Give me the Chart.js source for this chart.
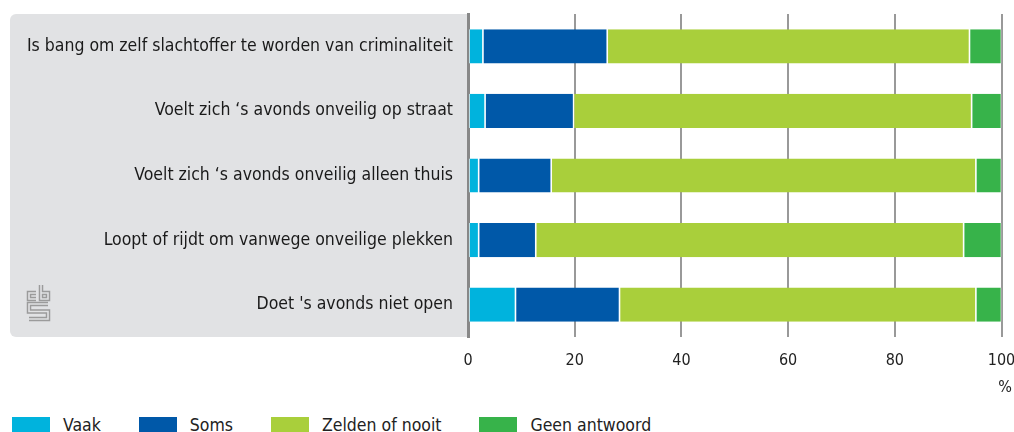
<!DOCTYPE html>
<html>
<head>
<meta charset="utf-8">
<script src="https://cdn.jsdelivr.net/npm/chart.js@4/dist/chart.umd.min.js"></script>
<style>
  body { margin: 0; background: #fff; }
  #wrap { position: relative; width: 1014px; height: 432px; overflow: hidden; }
  #box { position: absolute; left: 0; top: 0; width: 1014px; height: 400px; }
  #legend { position: absolute; left: 12px; top: 415px; display: flex; align-items: center;
            font-family: 'DejaVu Sans Condensed', 'DejaVu Sans', sans-serif; font-size: 17.5px; color: #222; }
  #legend .item { display: flex; align-items: center; margin-right: 38px; }
  #legend .sw { width: 38px; height: 17px; margin-right: 13px; }
</style>
</head>
<body>
<div id="wrap">
  <div id="box"><canvas id="chart"></canvas></div>
  <div id="legend"></div>
</div>
<script>
const categories = [
    'Is bang om zelf slachtoffer te worden van criminaliteit',
    'Voelt zich \u2018s avonds onveilig op straat',
    'Voelt zich \u2018s avonds onveilig alleen thuis',
    'Loopt of rijdt om vanwege onveilige plekken',
    'Doet \'s avonds niet open'
];
const seriesNames = ['Vaak', 'Soms', 'Zelden of nooit', 'Geen antwoord'];
const vaak = [2.8, 3.2, 2.0, 2.0, 8.9];
const soms = [23.3, 16.6, 13.6, 10.7, 19.5];
const zelden = [67.9, 74.6, 79.6, 80.2, 66.8];
const geen = [6.0, 5.6, 4.8, 7.1, 4.8];
const xTicks = [0, 20, 40, 60, 80, 100];
const colors = ['#00b3dd', '#0058a8', '#a9cf3b', '#37b34a'];

const FONT = "'DejaVu Sans Condensed', 'DejaVu Sans', sans-serif";
const PANEL = '#e1e2e4';

// grey label panel + cbs logo
const panelPlugin = {
    id: 'panel',
    beforeDraw(chart) {
        const ctx = chart.ctx;
        const area = chart.chartArea;
        ctx.save();
        ctx.fillStyle = PANEL;
        ctx.beginPath();
        ctx.roundRect(10, area.top, area.left - 10, area.bottom - area.top, [6, 0, 0, 6]);
        ctx.fill();

        ctx.lineJoin = 'miter';
        ctx.lineCap = 'butt';
        const letters = [
            [[36, 293], [29, 293], [29, 299], [36, 299]],
            [[41, 285], [41, 299], [48, 299], [48, 293], [41, 293]],
            [[48, 304], [29, 304], [29, 311.5], [48, 311.5], [48, 319], [29, 319]]
        ];
        [[4.5, '#9b9b9b'], [1.6, PANEL]].forEach(([w, c]) => {
            ctx.lineWidth = w;
            ctx.strokeStyle = c;
            letters.forEach(pts => {
                ctx.beginPath();
                pts.forEach((p, i) => i ? ctx.lineTo(p[0], p[1]) : ctx.moveTo(p[0], p[1]));
                ctx.stroke();
            });
        });
        ctx.restore();
    },
    afterDraw(chart) {
        const ctx = chart.ctx;
        ctx.save();
        ctx.font = '16px ' + FONT;
        ctx.fillStyle = '#222';
        ctx.textAlign = 'right';
        ctx.textBaseline = 'middle';
        ctx.fillText('%', 1012, 388);
        ctx.restore();
    }
};

const sets = [vaak, soms, zelden, geen].map((d, i) => ({
    label: seriesNames[i],
    data: d,
    backgroundColor: colors[i],
    borderColor: '#ffffff',
    borderWidth: { left: 0.8, right: 0.8, top: 0, bottom: 0 },
    borderSkipped: false,
    barPercentage: 0.53,
    categoryPercentage: 1
}));

new Chart(document.getElementById('chart'), {
    type: 'bar',
    data: { labels: categories, datasets: sets },
    options: {
        indexAxis: 'y',
        responsive: true,
        maintainAspectRatio: false,
        animation: false,
        layout: { padding: { left: 10, right: 12.5, top: 14, bottom: 0 } },
        plugins: { legend: { display: false }, tooltip: { enabled: false } },
        scales: {
            x: {
                stacked: true,
                min: 0,
                max: 100,
                afterBuildTicks: s => { s.ticks = xTicks.map(v => ({ value: v })); },
                afterFit: s => { s.height = 63; s.paddingLeft = 0; s.paddingRight = 0; },
                grid: {
                    drawTicks: false,
                    color: ctx => ctx.tick && ctx.tick.value === 0 ? 'rgba(0,0,0,0)' : '#999',
                    lineWidth: 2
                },
                border: { display: false },
                ticks: { padding: 14, color: '#222', font: { family: FONT, size: 16 }, maxRotation: 0 }
            },
            y: {
                stacked: true,
                afterFit: s => { s.width = 458; s.paddingTop = 0; s.paddingBottom = 0; },
                grid: { display: false, drawTicks: false },
                border: { display: true, color: '#888', width: 3 },
                ticks: { padding: 15, color: '#1a1a1a', font: { family: FONT, size: 17.5 } }
            }
        }
    },
    plugins: [panelPlugin]
});

const legend = document.getElementById('legend');
seriesNames.forEach((n, i) => {
    const item = document.createElement('div');
    item.className = 'item';
    item.innerHTML = '<div class="sw" style="background:' + colors[i] + '"></div><span>' + n + '</span>';
    legend.appendChild(item);
});
</script>
</body>
</html>
